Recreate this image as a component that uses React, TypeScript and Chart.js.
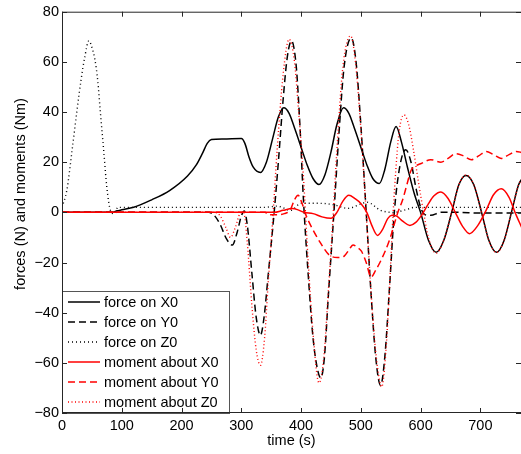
import React, { useEffect, useRef } from "react";
import { Chart, registerables } from "chart.js";

Chart.register(...registerables);

// time (s) -> value pairs
const forceX0: number[][] = [
  [0, 0], [85, 0], [92, 0.6], [100, 1], [120, 2], [150, 5], [180, 8.7], [210, 14.5], [225, 19], [235, 23.5],
  [243, 27.5], [250, 29], [270, 29.2], [300, 29.4], [306, 27.5], [313, 22], [320, 18], [332, 15.9], [342, 20],
  [352, 29], [362, 38], [371, 41.7], [380, 39.5], [390, 33], [400, 26], [410, 19], [420, 13.5], [430, 11.1],
  [440, 15], [450, 24], [460, 35], [471, 41.7], [480, 39.5], [490, 33], [500, 26], [510, 19], [520, 13.5],
  [531, 11.5], [540, 17], [550, 28], [559, 34.2], [568, 28], [578, 18], [590, 7], [600, 0], [613, -11],
  [626, -15.9], [639, -11], [652, 0], [664, 11], [676, 14.7], [689, 11], [702, 0], [714, -11], [727, -15.9],
  [740, -11], [752, 0], [764, 11], [770, 13.5],
];

const forceY0: number[][] = [
  [0, 0], [245, 0], [254, -1], [265, -5], [275, -10.5], [285, -13], [293, -8], [300, -1.5], [305, 0.5],
  [310, -5], [318, -25], [325, -42], [332, -49], [338, -42], [345, -25], [355, 0], [362, 20], [370, 45],
  [377, 62], [384, 68.4], [392, 58], [398, 35], [404, 5], [412, -25], [420, -50], [427, -62], [433, -66],
  [439, -58], [446, -32], [455, 0], [463, 30], [472, 58], [484, 69.5], [492, 60], [500, 35], [509, 0],
  [517, -32], [525, -58], [533, -69], [540, -58], [548, -30], [556, 0], [565, 18], [575, 25], [584, 20],
  [592, 10], [600, 2], [608, -1], [617, -1.2], [634, 0], [660, 0], [700, -0.3], [770, -0.3],
];

const forceZ0: number[][] = [
  [0, 2], [8, 8.7], [17, 25], [25, 40.5], [32, 53], [38, 61.8], [45, 68.4], [51, 65], [55, 61], [60, 52],
  [64, 40.5], [70, 24], [75, 10], [81, 0.8], [86, -0.5], [90, 0], [93, 2], [340, 2], [360, 2.5], [383, 0.8],
  [400, 3.6], [430, 3.6], [455, 3], [478, 1.6], [511, 4], [533, 0.8], [555, 0], [575, 1], [590, 2], [770, 2],
];

const momentX0: number[][] = [
  [0, 0], [355, 0], [370, 0.8], [385, 1.5], [395, 1], [405, 0], [420, -0.5], [435, -1.8], [450, -2.4],
  [460, 0], [470, 4.5], [480, 6.8], [490, 5.5], [500, 3.5], [510, 0], [518, -5], [528, -9.2], [536, -7],
  [545, -2.5], [552, -1.2], [560, -1.5], [570, -3.5], [582, -5.2], [592, -4], [602, -1], [612, 3], [622, 6.5],
  [634, 8.1], [646, 5.5], [658, 0], [670, -5.5], [682, -8.5], [695, -5.5], [710, 1], [722, 7], [735, 9.4],
  [748, 6], [758, 0], [770, -6.5],
];

const momentY0: number[][] = [
  [0, 0], [340, 0], [345, -1], [360, -1], [372, -0.5], [382, 1], [389, 5], [395, 6.8], [401, 4], [408, -1],
  [420, -7], [433, -12.4], [447, -17], [461, -18], [472, -17.5], [480, -15], [487, -13], [494, -14],
  [501, -15.5], [509, -20], [517, -25.8], [525, -23], [534, -19], [548, -11], [562, 0], [570, 5], [577, 11],
  [584, 16.7], [592, 18.5], [601, 19.5], [617, 21], [634, 20], [646, 21.5], [659, 23.4], [672, 22.5],
  [685, 21], [697, 22.5], [710, 24.3], [722, 23], [735, 21.5], [748, 23], [760, 24.3], [770, 23.8],
];

const momentZ0: number[][] = [
  [0, 0], [255, 0], [265, -1.5], [274, -6], [282, -10], [290, -6], [298, -0.5], [304, 0], [310, -12],
  [318, -38], [325, -55], [332, -61], [339, -50], [345, -28], [352, -5], [360, 25], [370, 55], [380, 69],
  [389, 60], [396, 40], [404, 14], [412, -20], [420, -48], [430, -68], [438, -58], [446, -30], [452, -8],
  [460, 25], [470, 58], [483, 70.4], [491, 60], [498, 40], [505, 15], [512, -12], [520, -42], [528, -62],
  [535, -69.6], [542, -55], [548, -30], [553, -5], [558, 15], [564, 32], [572, 38.9], [580, 35], [588, 25],
  [596, 12.7], [605, 0], [613, -10], [626, -16.3], [639, -11], [652, 0], [664, 11], [676, 14.9], [689, 11],
  [702, 0], [714, -11], [727, -16], [740, -11], [752, 0], [764, 11], [770, 13.5],
];

const seriesLabels = [
  "force on X0",
  "force on Y0",
  "force on Z0",
  "moment about X0",
  "moment about Y0",
  "moment about Z0",
];

const xTickValues = [0, 100, 200, 300, 400, 500, 600, 700];
const yTickValues = [-80, -60, -40, -20, 0, 20, 40, 60, 80];

const X_MIN = 0;
const X_MAX = 768;
const Y_MIN = -80;
const Y_MAX = 80;

const FONT = "'Liberation Sans', Arial, Helvetica, sans-serif";
const FS = 14.5;

const styles = [
  { color: "#000000", dash: [] as number[], width: 1.5 },
  { color: "#000000", dash: [7, 4], width: 1.5 },
  { color: "#000000", dash: [1, 3], width: 1.4 },
  { color: "#ff0000", dash: [] as number[], width: 1.5 },
  { color: "#ff0000", dash: [7, 4], width: 1.5 },
  { color: "#ff0000", dash: [1, 2.5], width: 1.4 },
];

const allSeries = [forceX0, forceY0, forceZ0, momentX0, momentY0, momentZ0];

const framePlugin = {
  id: "matlabFrame",
  afterDatasetsDraw(chart: any) {
    const { ctx, chartArea: a, scales } = chart;
    ctx.save();
    // legend box
    const lx0 = a.left, lx1 = 229, ly0 = 291, ly1 = a.bottom;
    ctx.fillStyle = "#ffffff";
    ctx.fillRect(lx0, ly0, lx1 - lx0, ly1 - ly0);
    ctx.strokeStyle = "#555555";
    ctx.lineWidth = 1;
    ctx.setLineDash([]);
    ctx.strokeRect(lx0 + 0.5, ly0 + 0.5, lx1 - lx0, ly1 - ly0);
    ctx.font = `${FS}px ${FONT}`;
    ctx.textBaseline = "middle";
    ctx.textAlign = "left";
    seriesLabels.forEach((lab, i) => {
      const y = 302 + i * 20;
      const s = styles[i];
      ctx.beginPath();
      ctx.strokeStyle = s.color;
      ctx.lineWidth = s.width;
      ctx.setLineDash(s.dash);
      ctx.moveTo(68, y);
      ctx.lineTo(100, y);
      ctx.stroke();
      ctx.fillStyle = "#000000";
      ctx.fillText(lab, 104, y + 0.5);
    });
    ctx.setLineDash([]);
    // axes box and inward ticks
    ctx.strokeStyle = "#262626";
    ctx.lineWidth = 1;
    ctx.strokeRect(a.left + 0.5, a.top + 0.5, a.right - a.left, a.bottom - a.top - 1);
    const L = 5;
    ctx.beginPath();
    xTickValues.forEach((v) => {
      const x = Math.round(scales.x.getPixelForValue(v)) + 0.5;
      ctx.moveTo(x, a.bottom);
      ctx.lineTo(x, a.bottom - L);
      ctx.moveTo(x, a.top);
      ctx.lineTo(x, a.top + L);
    });
    yTickValues.forEach((v) => {
      const y = Math.round(scales.y.getPixelForValue(v)) + 0.5;
      ctx.moveTo(a.left, y);
      ctx.lineTo(a.left + L, y);
      ctx.moveTo(a.right, y);
      ctx.lineTo(a.right - L, y);
    });
    ctx.stroke();
    // y-axis title
    ctx.translate(21, 194);
    ctx.rotate(-Math.PI / 2);
    ctx.textAlign = "center";
    ctx.textBaseline = "middle";
    ctx.fillStyle = "#000000";
    ctx.fillText("forces (N) and moments (Nm)", 0, 0);
    ctx.restore();
  },
};

const fmt = (v: number) => (v < 0 ? "\u2212" + Math.abs(v) : String(v));

export default function App() {
  const ref = useRef<HTMLCanvasElement | null>(null);
  useEffect(() => {
    if (!ref.current) return;
    const datasets = allSeries.map((s, i) => ({
      label: seriesLabels[i],
      data: s.map(([x, y]) => ({ x, y })),
      borderColor: styles[i].color,
      borderWidth: styles[i].width,
      borderDash: styles[i].dash,
      pointRadius: 0,
      fill: false,
      cubicInterpolationMode: "monotone" as const,
      order: 10 - i,
    }));
    const chart = new Chart(ref.current, {
      type: "line",
      data: { datasets },
      plugins: [framePlugin],
      options: {
        animation: false,
        responsive: false,
        devicePixelRatio: 1,
        parsing: false,
        layout: { padding: { left: 0, right: 0, top: 10, bottom: 0 } },
        plugins: { legend: { display: false }, tooltip: { enabled: false } },
        scales: {
          x: {
            type: "linear",
            min: X_MIN,
            max: X_MAX,
            grid: { display: false, drawTicks: false, tickLength: 0 },
            border: { display: false },
            afterBuildTicks: (sc: any) => {
              sc.ticks = xTickValues.map((v) => ({ value: v }));
            },
            afterFit: (sc: any) => {
              sc.height = 41;
            },
            ticks: {
              autoSkip: false,
              maxRotation: 0,
              padding: 4,
              color: "#000",
              font: { family: FONT, size: FS },
              callback: (v: any) => fmt(Number(v)),
            },
            title: {
              display: true,
              text: "time (s)",
              color: "#000",
              font: { family: FONT, size: FS },
              padding: { top: 0, bottom: 4 },
            },
          },
          y: {
            type: "linear",
            min: Y_MIN,
            max: Y_MAX,
            grid: { display: false, drawTicks: false, tickLength: 0 },
            border: { display: false },
            afterBuildTicks: (sc: any) => {
              sc.ticks = yTickValues.map((v) => ({ value: v }));
            },
            afterFit: (sc: any) => {
              sc.width = 62;
            },
            ticks: {
              autoSkip: false,
              padding: 3,
              color: "#000",
              font: { family: FONT, size: FS },
              callback: (v: any) => fmt(Number(v)),
            },
          },
        },
      },
    });
    return () => chart.destroy();
  }, []);
  return (
    <div style={{ position: "fixed", left: 0, top: 0, width: 521, height: 454, background: "#fff" }}>
      <canvas ref={ref} width={521} height={454} style={{ display: "block" }} />
    </div>
  );
}
